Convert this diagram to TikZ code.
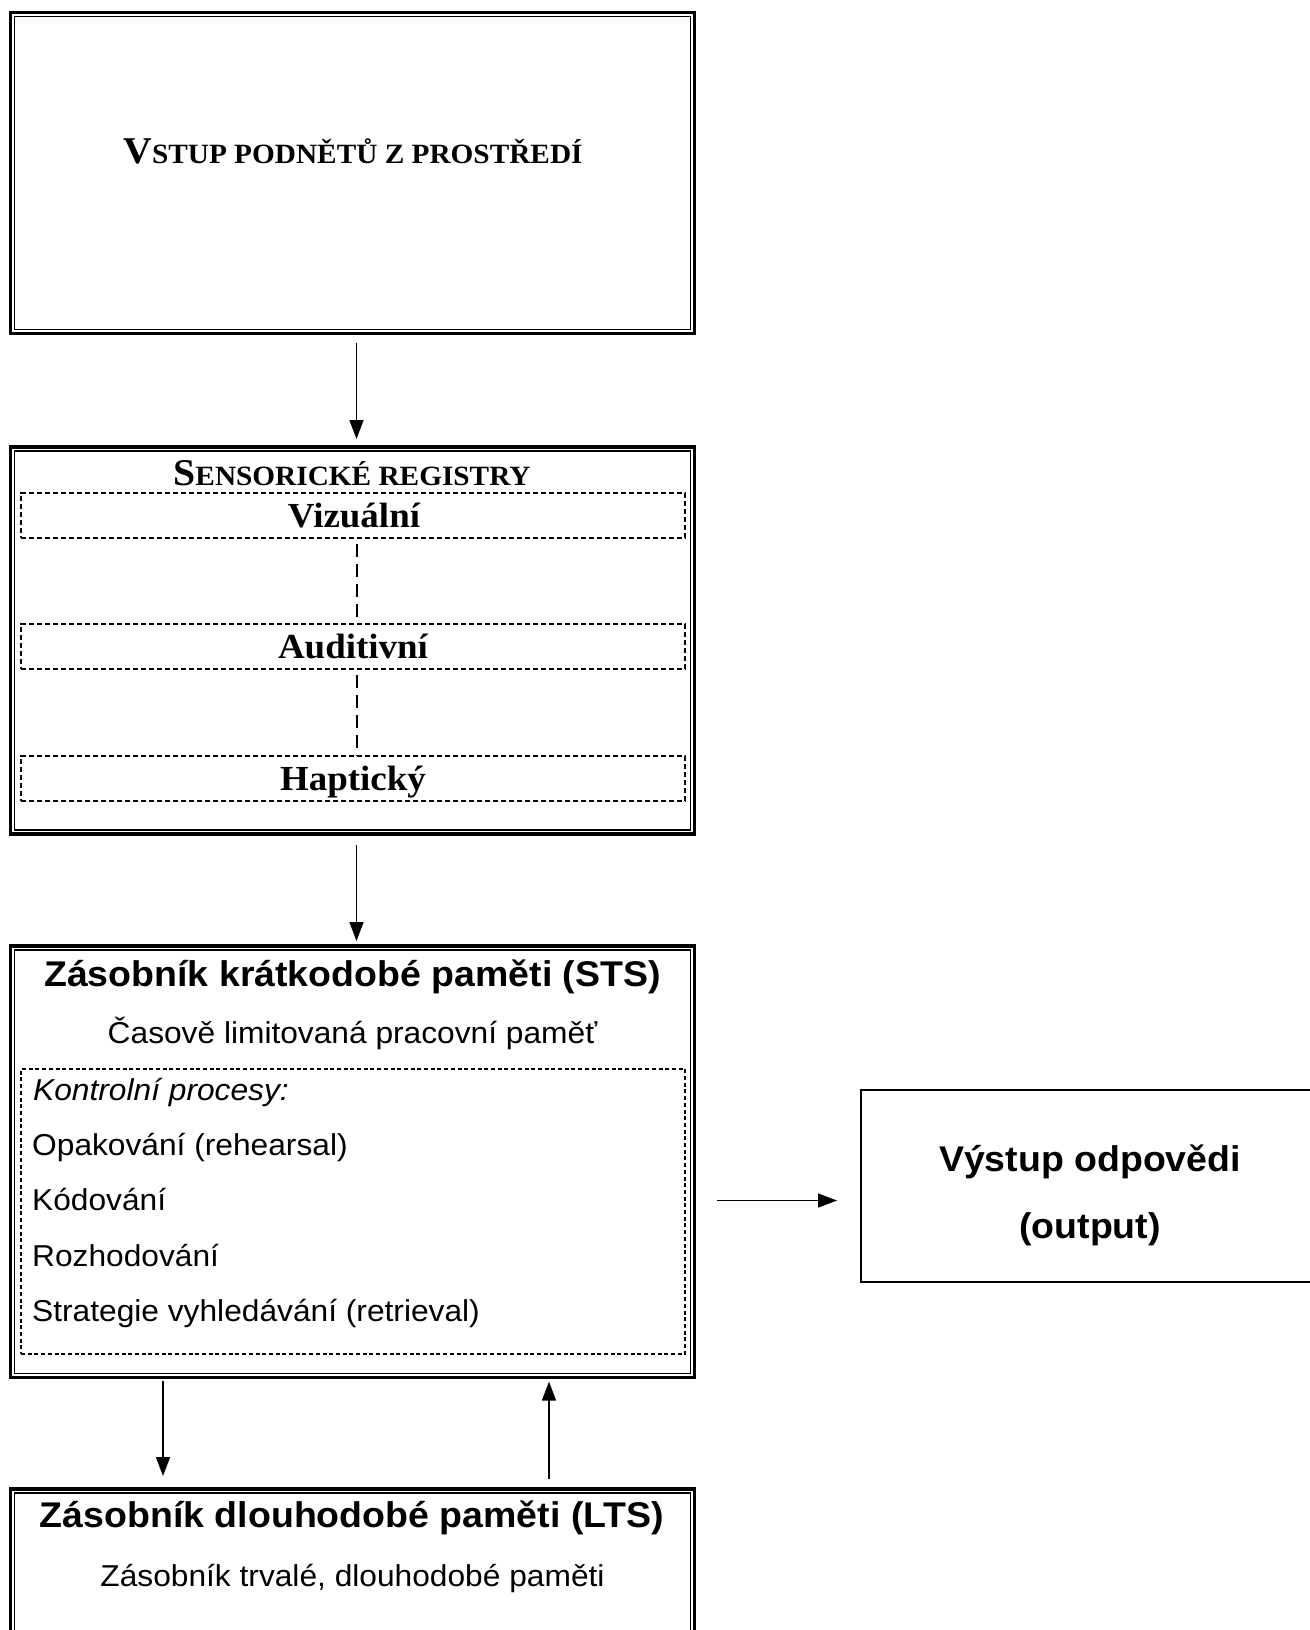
\documentclass[tikz,border=0pt]{standalone}
\usepackage{fontspec}
\setmainfont{Liberation Serif}[FakeStretch=1.05]
\setsansfont{Liberation Sans}[FakeStretch=1.05]
\usetikzlibrary{arrows.meta}
\tikzset{
  every picture/.style={>={Triangle[length=19pt,width=14pt]}},
  dblframe/.style={draw, line width=3.6pt, outer sep=0pt, inner sep=0pt, minimum width=684pt},
  inframe/.style={line width=1.2pt},
  regbox/.style={draw, line width=2pt, dash pattern=on 5.3pt off 2.7pt, outer sep=0pt, minimum width=664pt, minimum height=45pt},
  ctrlbox/.style={draw, line width=2.3pt, dash pattern=on 4pt off 2.7pt, outer sep=0pt},
  link/.style={line width=1.5pt, dash pattern=on 13pt off 7pt},
  arr/.style={->, line width=1.5pt},
  txt/.style={inner sep=0pt, anchor=base},
  serifbold/.style={font=\bfseries\fontsize{35.2}{40}\selectfont},
  sansbold/.style={font=\sffamily\bfseries\fontsize{35.7}{40}\selectfont},
  sansreg/.style={font=\sffamily\fontsize{30.2}{36}\selectfont},
  sansit/.style={font=\sffamily\itshape\fontsize{30.2}{36}\selectfont},
}
\newcommand{\fakesc}[2]{{\fontsize{37.8}{40}\selectfont #1}{\fontsize{27.9}{40}\selectfont #2}}

\begin{document}
\begin{tikzpicture}[x=1pt,y=-1pt]
\useasboundingbox (0,0) rectangle (1309,1630);
% main frames
\node[dblframe, minimum height=321pt] (inp) at (352.5,173) {};
\node[dblframe, minimum height=387pt] (sens) at (352.5,640.5) {};
\node[dblframe, minimum height=431.6pt] (sts) at (352.5,1161.8) {};
\node[dblframe, minimum height=231pt] (lts) at (352.5,1604.5) {};
\foreach \b in {inp,sens,sts,lts}
  \draw[inframe] ([shift={(4pt,4pt)}]\b.south west) rectangle ([shift={(-4pt,-4pt)}]\b.north east);

\node[txt, font=\bfseries] (inptxt) at (353,163.3) {\fakesc{V}{STUP PODNĚTŮ Z PROSTŘEDÍ}};

% sensory registers
\node[txt, font=\bfseries] (senstxt) at (352,485) {\fakesc{S}{ENSORICKÉ REGISTRY}};
\node[regbox] (viz) at (353,515.5) {};
\node[regbox] (aud) at (353,646.5) {};
\node[regbox] (hap) at (353,778.5) {};
\node[txt, serifbold] (viztxt) at (354,527) {Vizuální};
\node[txt, serifbold] (audtxt) at (353,658) {Auditivní};
\node[txt, serifbold] (haptxt) at (353,790) {Haptický};
\draw[link, shorten <=6pt] ([xshift=4pt]viz.south) -- ([xshift=4pt]aud.north);
\draw[link, shorten <=6pt] ([xshift=4pt]aud.south) -- ([xshift=4pt]hap.north);

% short-term store
\node[txt, sansbold] (ststitle) at (352.5,986) {Zásobník krátkodobé paměti (STS)};
\node[txt, sansreg] (stssub) at (352.5,1043) {Časově limitovaná pracovní paměť};
\node[ctrlbox, minimum width=664pt, minimum height=285pt] (ctrl) at (353,1211.5) {};
\node[txt, sansit, anchor=base west] (kp) at (33,1100) {Kontrolní procesy:};
\node[txt, sansreg, anchor=base west] (opak) at (32,1155) {Opakování (rehearsal)};
\node[txt, sansreg, anchor=base west] (kod) at (32,1210.5) {Kódování};
\node[txt, sansreg, anchor=base west] (rozh) at (32,1266) {Rozhodování};
\node[txt, sansreg, anchor=base west] (strat) at (32,1321.5) {Strategie vyhledávání (retrieval)};

% output
\node[draw, line width=1.6pt, outer sep=0pt, minimum width=458pt, minimum height=192pt] (out) at (1090,1186) {};
\node[txt, sansbold] (outtxt) at (1090,1171) {Výstup odpovědi};
\node[txt, sansbold] (outtxt2) at (1090,1238.5) {(output)};

% long-term store
\node[txt, sansbold] (ltstitle) at (352,1527) {Zásobník dlouhodobé paměti (LTS)};
\node[txt, sansreg] (ltssub) at (352.5,1586) {Zásobník trvalé, dlouhodobé paměti};

% arrows
\draw[arr, shorten <=9pt, shorten >=8pt] ([xshift=4pt]inp.south) -- ([xshift=4pt]sens.north);
\draw[arr, shorten <=11pt, shorten >=5pt] ([xshift=4pt]sens.south) -- ([xshift=4pt]sts.north);
\draw[arr, shorten <=22.5pt, shorten >=24pt] ([yshift=10pt]sts.east |- kod.base) -- ([yshift=10pt]out.west |- kod.base);
\draw[arr, shorten <=3.5pt, shorten >=13pt] ([xshift=-189.5pt]sts.south) -- ([xshift=-189.5pt]lts.north);
\draw[arr, shorten <=10.5pt, shorten >=4pt] ([xshift=196.5pt]lts.north) -- ([xshift=196.5pt]sts.south);
\end{tikzpicture}
\end{document}
